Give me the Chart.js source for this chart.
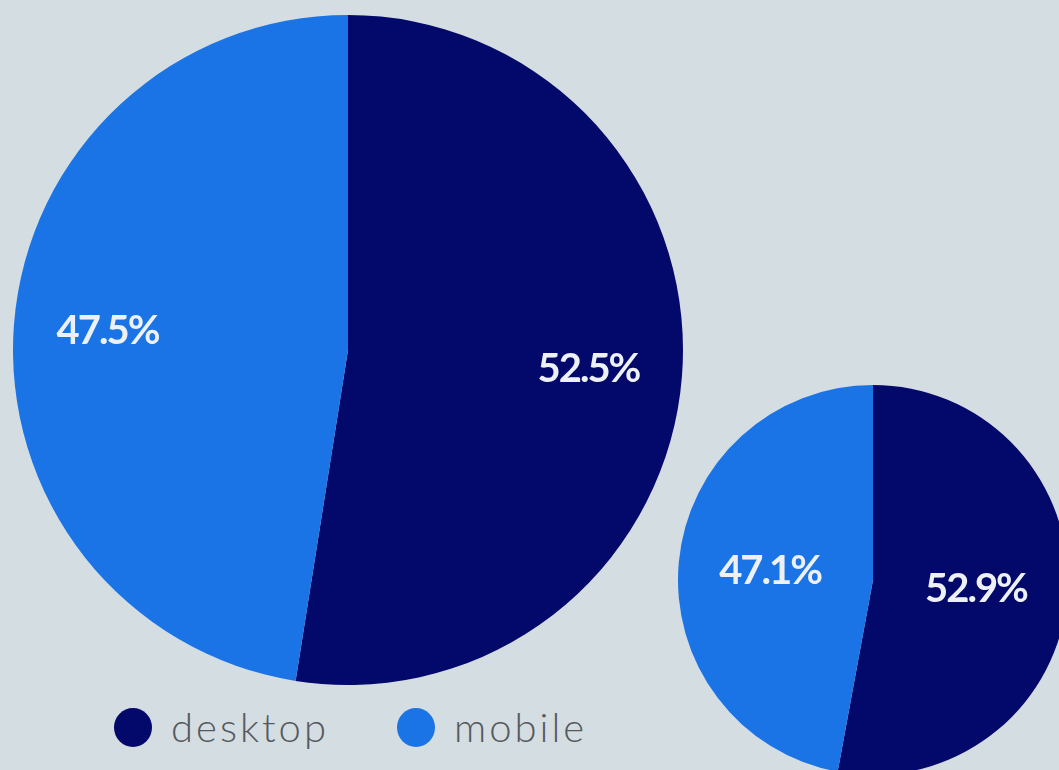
<!DOCTYPE html>
<html>
<head>
<meta charset="utf-8">
<script src="https://cdn.jsdelivr.net/npm/chart.js@4"></script>
<style>
  html, body {
    margin: 0;
    padding: 0;
    width: 1059px;
    height: 770px;
    overflow: hidden;
    background: #d4dde1;
  }
  .pie {
    position: absolute;
  }
  #legend {
    position: absolute;
    left: 114px;
    top: 707px;
    display: flex;
    align-items: center;
    font-family: 'Lato', sans-serif;
    font-weight: 300;
    font-size: 40px;
    line-height: 40px;
    letter-spacing: 3px;
    color: #55595d;
  }
  #legend .item {
    display: flex;
    align-items: center;
    margin-right: 68px;
  }
  #legend .dot {
    width: 38px;
    height: 39px;
    border-radius: 50%;
    margin-right: 19px;
  }
</style>
</head>
<body>
<canvas id="bigPie" class="pie" width="670" height="670" style="left:13px;top:15px;"></canvas>
<canvas id="smallPie" class="pie" width="390" height="390" style="left:678px;top:385px;"></canvas>
<div id="legend"></div>

<script>
const categories = ['desktop', 'mobile'];
const bigShares = [52.5, 47.5];
const smallShares = [52.9, 47.1];
const sliceColors = ['#03086b', '#1b74e6'];

// draws the percentage inside each slice
const sliceLabels = {
  id: 'sliceLabels',
  afterDatasetsDraw(chart, args, opts) {
    const ctx = chart.ctx;
    const values = chart.data.datasets[0].data;
    ctx.save();
    ctx.font = 'bold 40px Lato';
    ctx.letterSpacing = '-2px';
    ctx.fillStyle = '#edf1f6';
    ctx.textAlign = 'center';
    ctx.textBaseline = 'middle';
    chart.getDatasetMeta(0).data.forEach((arc, i) => {
      const p = arc.getProps(['x', 'y', 'startAngle', 'endAngle', 'outerRadius'], true);
      const mid = (p.startAngle + p.endAngle) / 2;
      const r = p.outerRadius * opts.factor;
      ctx.fillText(values[i].toFixed(1) + '%', p.x + Math.cos(mid) * r, p.y + Math.sin(mid) * r);
    });
    ctx.restore();
  }
};

function makePie(canvasId, shares, factor) {
  return new Chart(document.getElementById(canvasId), {
    type: 'pie',
    data: {
      labels: categories,
      datasets: [{
        data: shares,
        backgroundColor: sliceColors,
        borderWidth: 0
      }]
    },
    options: {
      responsive: false,
      animation: false,
      layout: { padding: 0 },
      plugins: {
        legend: { display: false },
        tooltip: { enabled: false },
        sliceLabels: { factor: factor }
      }
    },
    plugins: [sliceLabels]
  });
}

makePie('bigPie', bigShares, 0.72);
makePie('smallPie', smallShares, 0.53);

const legend = document.getElementById('legend');
categories.forEach((name, i) => {
  const item = document.createElement('div');
  item.className = 'item';
  const dot = document.createElement('span');
  dot.className = 'dot';
  dot.style.background = sliceColors[i];
  item.appendChild(dot);
  item.appendChild(document.createTextNode(name));
  legend.appendChild(item);
});
</script>
</body>
</html>
